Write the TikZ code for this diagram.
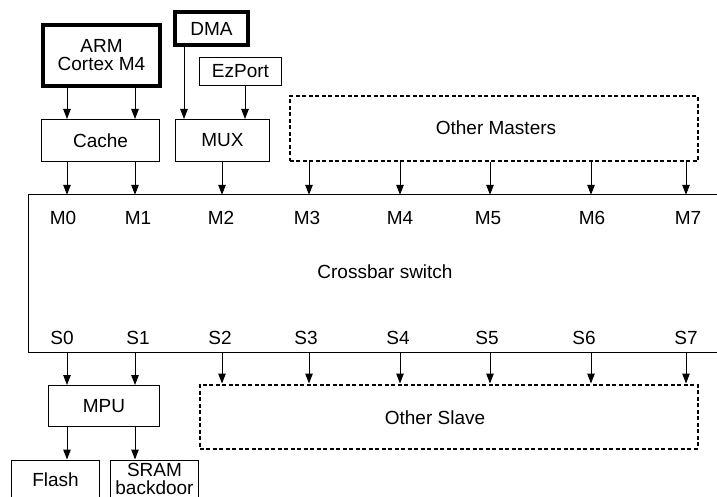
\documentclass[tikz,border=0pt]{standalone}
\usepackage{fontspec}
\setmainfont{Liberation Sans}
\usetikzlibrary{arrows.meta}
\begin{document}
\begin{tikzpicture}[x=1pt,y=-1pt,
  every node/.style={font=\fontsize{19}{18}\selectfont},
  box/.style={draw, line width=1pt, inner sep=0pt, align=center},
  thickbox/.style={box, line width=4pt},
  dbox/.style={draw, line width=2pt, dash pattern=on 4pt off 2.5pt, inner sep=0pt},
  arr/.style={line width=1pt, -{Triangle[length=10pt,width=7.5pt]}},
  lbl/.style={inner sep=0pt, anchor=center}]
\useasboundingbox (0,0) rectangle (717,497);
% columns
\coordinate (c0) at (67,0);
\coordinate (c1) at (135,0);
\coordinate (c2) at (222,0);
\coordinate (c3) at (309,0);
\coordinate (c4) at (400,0);
\coordinate (c5) at (490,0);
\coordinate (c6) at (591,0);
\coordinate (c7) at (686,0);
\coordinate (cd) at (184,0);
\coordinate (ce) at (245,0);
% top nodes
\node[thickbox, minimum width=117pt, minimum height=61pt] (arm) at (101.5,55.5) {ARM\\Cortex M4};
\node[thickbox, minimum width=73pt, minimum height=33pt] (dma) at (211.5,28.5) {DMA};
\node[box, minimum width=82pt, minimum height=28pt] (ez) at (240.5,71.5) {EzPort};
\node[box, minimum width=118pt, minimum height=42pt] (cache) at (100.5,140.5) {Cache};
\node[box, minimum width=94pt, minimum height=42pt] (mux) at (222.5,140.5) {MUX};
\node[dbox, minimum width=408pt, minimum height=65pt] (om) at (493.5,129) {};
\node[lbl] (omt) at (496,128) {Other Masters};
% crossbar
\node[inner sep=0pt, minimum width=688pt, minimum height=157pt] (xb) at (373,273.5) {};
\draw[line width=1.2pt] (xb.north east) -- (xb.north west) -- (xb.south west) -- (xb.south east);
\node[lbl] (xbt) at (385,272) {Crossbar switch};
\node[lbl] (m0) at (63,218) {M0};
\node[lbl] (m1) at (138,218) {M1};
\node[lbl] (m2) at (221,218) {M2};
\node[lbl] (m3) at (307,218) {M3};
\node[lbl] (m4) at (400,218) {M4};
\node[lbl] (m5) at (488,218) {M5};
\node[lbl] (m6) at (592,218) {M6};
\node[lbl] (m7) at (688,218) {M7};
\node[lbl] (s0) at (62,338) {S0};
\node[lbl] (s1) at (138,338) {S1};
\node[lbl] (s2) at (220,338) {S2};
\node[lbl] (s3) at (306,338) {S3};
\node[lbl] (s4) at (398,338) {S4};
\node[lbl] (s5) at (487,338) {S5};
\node[lbl] (s6) at (584,338) {S6};
\node[lbl] (s7) at (686,338) {S7};
% bottom nodes
\node[box, minimum width=111pt, minimum height=41pt] (mpu) at (104,406) {MPU};
\node[dbox, minimum width=498pt, minimum height=64pt] (os) at (448.5,416.5) {};
\node[lbl] (ost) at (435,418) {Other Slave};
\node[box, minimum width=88pt, minimum height=40pt] (flash) at (55.5,480) {Flash};
\node[box, minimum width=88pt, minimum height=38pt, font=\fontsize{19}{17.5}\selectfont] (sram) at (154.5,479) {SRAM\\backdoor};
% arrows top
\draw[arr] (arm.south -| c0) -- (cache.north -| c0);
\draw[arr] (arm.south -| c1) -- (cache.north -| c1);
\draw[arr] (dma.south -| cd) -- (mux.north -| cd);
\draw[arr] (ez.south -| ce) -- (mux.north -| ce);
\draw[arr] (cache.south -| c0) -- (xb.north -| c0);
\draw[arr] (cache.south -| c1) -- (xb.north -| c1);
\draw[arr] (mux.south -| c2) -- (xb.north -| c2);
\foreach \c in {c3,c4,c5,c6,c7} \draw[arr] (om.south -| \c) -- (xb.north -| \c);
% arrows bottom
\draw[arr] (xb.south -| c0) -- (mpu.north -| c0);
\draw[arr] (xb.south -| c1) -- (mpu.north -| c1);
\foreach \c in {c2,c3,c4,c5,c6,c7} \draw[arr] (xb.south -| \c) -- (os.north -| \c);
\draw[arr] (mpu.south -| c0) -- (flash.north -| c0);
\draw[arr] (mpu.south -| c1) -- (sram.north -| c1);
\end{tikzpicture}
\end{document}
